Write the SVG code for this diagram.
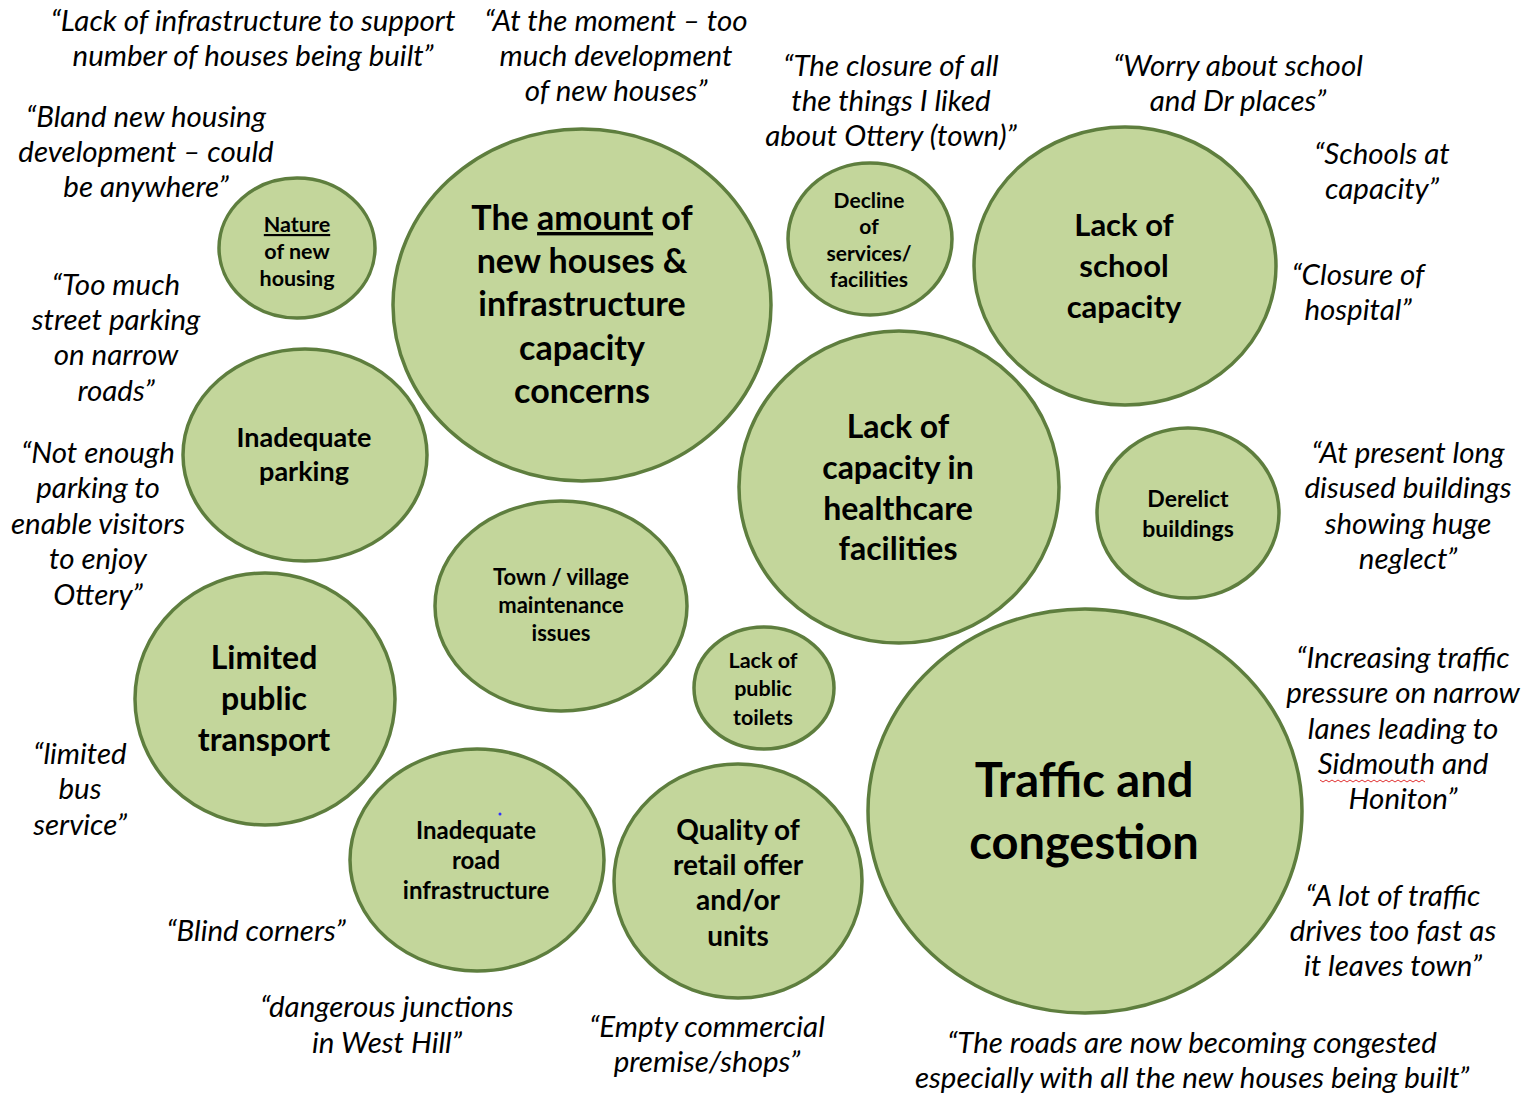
<svg xmlns="http://www.w3.org/2000/svg" width="1526" height="1094" viewBox="0 0 1526 1094">
<style>
.b{fill:#c3d69b;stroke:#5e7e3e;stroke-width:3.5}
.t{font-family:Lato,"Open Sans","Liberation Sans",sans-serif;font-weight:bold;fill:#000;text-anchor:middle}
.q{font-family:Lato,"Open Sans","Liberation Sans",sans-serif;font-style:italic;font-size:29.5px;fill:#000;text-anchor:middle}
.u{text-decoration:underline}
</style>
<rect width="1526" height="1094" fill="#fff"/>
<g id="connectors"></g>

<g id="nature">
<ellipse class="b" cx="297" cy="248" rx="78" ry="70"/>
<text class="t" font-size="21.5"><tspan x="297" y="232" class="u">Nature</tspan><tspan x="297" y="259">of new</tspan><tspan x="297" y="286">housing</tspan></text>
</g>

<g id="amount">
<ellipse class="b" cx="582" cy="305" rx="189" ry="176"/>
<text class="t" font-size="34"><tspan x="582" y="230">The <tspan class="u">amount</tspan> of</tspan><tspan x="582" y="273">new houses &amp;</tspan><tspan x="582" y="316">infrastructure</tspan><tspan x="582" y="360">capacity</tspan><tspan x="582" y="403">concerns</tspan></text>
</g>

<g id="decline">
<ellipse class="b" cx="870" cy="239" rx="82" ry="76"/>
<text class="t" font-size="21"><tspan x="869" y="207.5">Decline</tspan><tspan x="869" y="233.5">of</tspan><tspan x="869" y="260.5">services/</tspan><tspan x="869" y="286.5">facilities</tspan></text>
</g>

<g id="school">
<ellipse class="b" cx="1125" cy="266" rx="151" ry="139"/>
<text class="t" font-size="31"><tspan x="1124" y="236">Lack of</tspan><tspan x="1124" y="277">school</tspan><tspan x="1124" y="318">capacity</tspan></text>
</g>

<g id="parking">
<ellipse class="b" cx="305" cy="455" rx="122" ry="106"/>
<text class="t" font-size="27"><tspan x="304" y="446.5">Inadequate</tspan><tspan x="304" y="480.5">parking</tspan></text>
</g>

<g id="healthcare">
<ellipse class="b" cx="899" cy="487" rx="160" ry="156"/>
<text class="t" font-size="32"><tspan x="898" y="437.5">Lack of</tspan><tspan x="898" y="478.5">capacity in</tspan><tspan x="898" y="519.5">healthcare</tspan><tspan x="898" y="559.5">facilities</tspan></text>
</g>

<g id="derelict">
<ellipse class="b" cx="1188" cy="513" rx="91" ry="85"/>
<text class="t" font-size="23"><tspan x="1188" y="507">Derelict</tspan><tspan x="1188" y="537">buildings</tspan></text>
</g>

<g id="maintenance">
<ellipse class="b" cx="561" cy="606" rx="126" ry="105"/>
<text class="t" font-size="22"><tspan x="561" y="585">Town / village</tspan><tspan x="561" y="613">maintenance</tspan><tspan x="561" y="641">issues</tspan></text>
</g>

<g id="transport">
<ellipse class="b" cx="265" cy="699" rx="130" ry="126"/>
<text class="t" font-size="32"><tspan x="264" y="668.5">Limited</tspan><tspan x="264" y="709.5">public</tspan><tspan x="264" y="750.5">transport</tspan></text>
</g>

<g id="toilets">
<ellipse class="b" cx="764" cy="688" rx="70" ry="61"/>
<text class="t" font-size="21.5"><tspan x="763" y="667.5">Lack of</tspan><tspan x="763" y="695.5">public</tspan><tspan x="763" y="724.5">toilets</tspan></text>
</g>

<g id="traffic">
<ellipse class="b" cx="1085" cy="811" rx="217" ry="202"/>
<text class="t" font-size="47"><tspan x="1084" y="797">Traffic and</tspan><tspan x="1084" y="859">congestion</tspan></text>
</g>

<g id="road">
<ellipse class="b" cx="477" cy="860" rx="127" ry="111"/>
<circle cx="500" cy="814" r="1.5" fill="#3030ff"/>
<text class="t" font-size="24"><tspan x="476" y="838.5">Inadequate</tspan><tspan x="476" y="868.5">road</tspan><tspan x="476" y="898.5">infrastructure</tspan></text>
</g>

<g id="retail">
<ellipse class="b" cx="738" cy="881" rx="124" ry="117"/>
<text class="t" font-size="28"><tspan x="738" y="840">Quality of</tspan><tspan x="738" y="875">retail offer</tspan><tspan x="738" y="910">and/or</tspan><tspan x="738" y="946">units</tspan></text>
</g>

<g id="quotes">
<text class="q"><tspan x="253" y="31">“Lack of infrastructure to support</tspan><tspan x="253" y="66">number of houses being built”</tspan></text>
<text class="q"><tspan x="616" y="31">“At the moment – too</tspan><tspan x="616" y="66">much development</tspan><tspan x="616" y="101">of new houses”</tspan></text>
<text class="q"><tspan x="891" y="76">“The closure of all</tspan><tspan x="891" y="111">the things I liked</tspan><tspan x="891" y="146">about Ottery (town)”</tspan></text>
<text class="q"><tspan x="1238" y="76">“Worry about school</tspan><tspan x="1238" y="111">and Dr places”</tspan></text>
<text class="q"><tspan x="146" y="127">“Bland new housing</tspan><tspan x="146" y="162">development – could</tspan><tspan x="146" y="197">be anywhere”</tspan></text>
<text class="q"><tspan x="1382" y="164">“Schools at</tspan><tspan x="1382" y="199">capacity”</tspan></text>
<text class="q"><tspan x="1358" y="285">“Closure of</tspan><tspan x="1358" y="320">hospital”</tspan></text>
<text class="q"><tspan x="116" y="295">“Too much</tspan><tspan x="116" y="330">street parking</tspan><tspan x="116" y="365">on narrow</tspan><tspan x="116" y="401">roads”</tspan></text>
<text class="q"><tspan x="98" y="463">“Not enough</tspan><tspan x="98" y="498">parking to</tspan><tspan x="98" y="534">enable visitors</tspan><tspan x="98" y="569">to enjoy</tspan><tspan x="98" y="605">Ottery”</tspan></text>
<text class="q"><tspan x="1408" y="463">“At present long</tspan><tspan x="1408" y="498">disused buildings</tspan><tspan x="1408" y="534">showing huge</tspan><tspan x="1408" y="569">neglect”</tspan></text>
<text class="q"><tspan x="1403" y="668">“Increasing traffic</tspan><tspan x="1403" y="703">pressure on narrow</tspan><tspan x="1403" y="739">lanes leading to</tspan><tspan x="1403" y="774">Sidmouth and</tspan><tspan x="1403" y="809">Honiton”</tspan></text>
<path d="M1320 780 l3 2 l3 -2 l3 2 l3 -2 l3 2 l3 -2 l3 2 l3 -2 l3 2 l3 -2 l3 2 l3 -2 l3 2 l3 -2 l3 2 l3 -2 l3 2 l3 -2 l3 2 l3 -2 l3 2 l3 -2 l3 2 l3 -2 l3 2 l3 -2 l3 2 l3 -2 l3 2 l3 -2 l3 2 l3 -2 l3 2 l3 -2 l3 2" fill="none" stroke="#e03030" stroke-width="1"/>
<text class="q"><tspan x="80" y="764">“limited</tspan><tspan x="80" y="799">bus</tspan><tspan x="80" y="835">service”</tspan></text>
<text class="q"><tspan x="256" y="941">“Blind corners”</tspan></text>
<text class="q"><tspan x="1393" y="906">“A lot of traffic</tspan><tspan x="1393" y="941">drives too fast as</tspan><tspan x="1393" y="976">it leaves town”</tspan></text>
<text class="q"><tspan x="387" y="1017">“dangerous junctions</tspan><tspan x="387" y="1053">in West Hill”</tspan></text>
<text class="q"><tspan x="707" y="1037">“Empty commercial</tspan><tspan x="707" y="1072">premise/shops”</tspan></text>
<text class="q"><tspan x="1192" y="1053">“The roads are now becoming congested</tspan><tspan x="1192" y="1088">especially with all the new houses being built”</tspan></text>
</g>
</svg>
